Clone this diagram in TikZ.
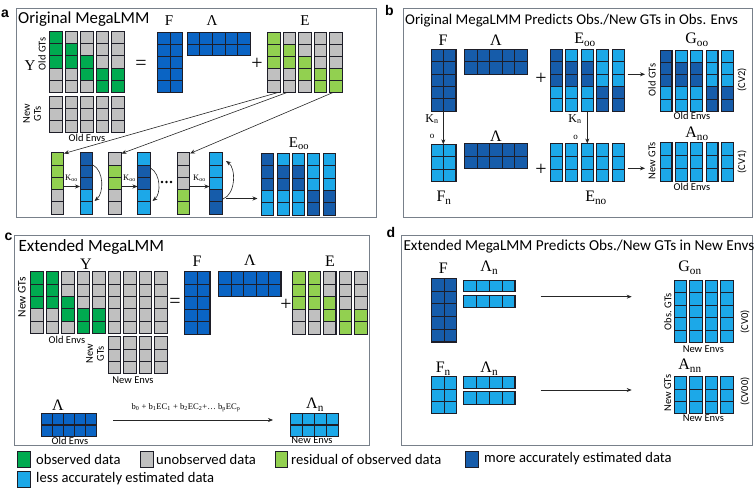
\documentclass[tikz,border=0pt]{standalone}
\usepackage{fontspec}
\setmainfont{Carlito}
\newfontfamily\lbl{Liberation Serif}
\newfontfamily\pan{Liberation Sans}
\usetikzlibrary{arrows.meta}
\definecolor{G}{RGB}{0,170,80}
\definecolor{U}{RGB}{192,192,192}
\definecolor{R}{RGB}{146,208,80}
\definecolor{A}{RGB}{10,100,196}
\definecolor{D}{RGB}{22,92,170}
\definecolor{L}{RGB}{28,168,232}
\definecolor{boxc}{RGB}{120,128,138}
\definecolor{edge}{RGB}{30,30,40}
\newcommand{\colv}[6]{%
  \def\tmplist{#6}%
  \foreach \cc [count=\ii from 0] in \tmplist {%
    \filldraw[fill=\cc, draw=edge, line width=0.5pt] (#1,{#2+\ii*#4}) rectangle ++(#3,#4);
  }%
  \draw[edge, line width=0.9pt] (#1,#2) rectangle ++(#3,{#5*#4});
}
\newcommand{\blk}[7]{%
  \foreach \ii in {1,...,#5} {\foreach \jj in {1,...,#6} {%
    \filldraw[fill=#7, draw=edge, line width=0.5pt] ({#1+(\ii-1)*#3},{#2+(\jj-1)*#4}) rectangle ++(#3,#4);
  }}%
  \draw[edge, line width=0.9pt] (#1,#2) rectangle ++({#5*#3},{#6*#4});
}
\begin{document}
\begin{tikzpicture}[x=1pt,y=-1pt,
  ttla/.style={font=\fontsize{16.8}{18}\selectfont, anchor=west, inner sep=0},
  ttlc/.style={font=\fontsize{17.2}{18}\selectfont, anchor=west, inner sep=0},
  ttlb/.style={font=\fontsize{14.85}{16}\selectfont, anchor=west, inner sep=0},
  ttld/.style={font=\fontsize{15.25}{16}\selectfont, anchor=west, inner sep=0},
  sm/.style={font=\fontsize{10.5}{11}\selectfont, inner sep=0},
  smc/.style={font=\fontsize{11.5}{12}\selectfont, inner sep=0},
  mlab/.style={font=\lbl\fontsize{15}{15}\selectfont, inner sep=0},
  mlabb/.style={font=\lbl\fontsize{16}{16}\selectfont, inner sep=0},
  klab/.style={font=\lbl\fontsize{12}{12}\selectfont, inner sep=0},
  kk/.style={font=\lbl\fontsize{8.5}{9}\selectfont, inner sep=0},
  osm/.style={font=\lbl\fontsize{9}{9}\selectfont, inner sep=0},
  sym/.style={font=\lbl\fontsize{20}{20}\selectfont, inner sep=0},
  pl/.style={font=\pan\bfseries\fontsize{14}{14}\selectfont, inner sep=0},
  leg/.style={font=\fontsize{14.6}{15}\selectfont, anchor=west, inner sep=0},
  arr/.style={-{Stealth[length=5pt,width=4pt]}, line width=0.6pt, black!85},
  panel/.style={draw=boxc, line width=1pt},
]
\useasboundingbox (0,0) rectangle (755,489);

% ================= panel a =================
\node[pl] (la) at (5,14) {a};
\draw[panel] (16,9) rectangle (376,218);
\node[ttla] (ta) at (18,19) {Original MegaLMM};
\colv{49.5}{31.5}{12.5}{12.1}{5}{G,G,G,U,U}
\colv{65}{31.5}{12.5}{12.1}{5}{U,G,G,U,U}
\colv{80.5}{31.5}{12.5}{12.1}{5}{U,U,G,G,U}
\colv{96}{31.5}{12.5}{12.1}{5}{U,U,U,G,G}
\colv{111.5}{31.5}{12.5}{12.1}{5}{U,U,U,G,G}
\foreach \x in {49.5,65,80.5,96,111.5} {\colv{\x}{96}{12.5}{12}{3}{U,U,U}}
\node[mlab] (Ya) at (30,66) {Y};
\node[sm, rotate=90] (oga) at (42,54) {Old GTs};
\node[sm, rotate=90, align=center] (nga) at (32,114) {New\\GTs};
\node[sm] (oea) at (87,138) {Old Envs};
\node[sym] (eqa) at (141,65) {=};
\node[mlab] (Fa) at (169,21) {F};
\blk{157.5}{32}{12.6}{12}{2}{5}{A}
\node[mlab] (La) at (212,21) {Λ};
\blk{187}{32}{12.6}{11.8}{5}{2}{A}
\node[sym] (pa) at (257,64) {+};
\node[mlab] (Ea) at (305,21) {E};
\colv{267.5}{32}{12.5}{12}{5}{R,R,R,U,U}
\colv{283}{32}{12.5}{12}{5}{U,R,R,U,U}
\colv{298.5}{32}{12.5}{12}{5}{U,U,R,R,U}
\colv{314}{32}{12.5}{12}{5}{U,U,U,R,R}
\colv{329.5}{32}{12.5}{12}{5}{U,U,U,R,R}
% bottom row
\colv{51}{152.5}{12.5}{12.3}{5}{R,R,R,U,U}
\colv{80}{152.5}{12.5}{12.3}{5}{D,D,D,L,L}
\colv{108.5}{152.5}{12.5}{12.3}{5}{U,R,R,U,U}
\colv{137.5}{152.5}{12.5}{12.3}{5}{L,D,D,L,L}
\colv{177}{152.5}{12.5}{12.3}{5}{U,U,U,R,R}
\colv{209.5}{152.5}{12.5}{12.3}{5}{L,L,L,D,D}
\coordinate (Ec1) at (278,92.5);
\coordinate (Ec2) at (287,92.5);
\coordinate (Ec5) at (333,92.5);
\coordinate (A1t) at (64,153.5);
\coordinate (B1t) at (121.5,153.5);
\coordinate (C1t) at (190,153.5);
\draw[arr] (Ec1) -- (A1t);
\draw[arr] (Ec2) -- (B1t);
\draw[arr] (Ec5) -- (C1t);
\coordinate (A1r) at (63.5,186.5); \coordinate (A2l) at (80,186.5);
\coordinate (B1r) at (121,186.5); \coordinate (B2l) at (137.5,186.5);
\coordinate (C1r) at (189.5,186.5); \coordinate (C2l) at (209.5,186.5);
\draw[arr] (A1r) -- (A2l);
\draw[arr] (B1r) -- (B2l);
\draw[arr] (C1r) -- (C2l);
\node[kk] (k1) at (71.5,178) {K\textsubscript{oo}};
\node[kk] (k2) at (129.5,178) {K\textsubscript{oo}};
\node[kk] (k3) at (199.5,178) {K\textsubscript{oo}};
\coordinate (A2a) at (93,165); \coordinate (A2b) at (94.5,201);
\draw[arr] (A2a) .. controls (104,171) and (104,193) .. (A2b);
\coordinate (B2a) at (150.5,168); \coordinate (B2b) at (152.5,201);
\draw[arr] (B2a) .. controls (161,174) and (161,194) .. (B2b);
\coordinate (C2a) at (223,199); \coordinate (C2b) at (226,161);
\draw[arr] (C2a) .. controls (236,194) and (236,168) .. (C2b);
\foreach \x in {162,166.5,171} {\fill[black] (\x,182) circle (1.4);}
\coordinate (C2o) at (226,198.5); \coordinate (Eoot) at (257.5,198.5);
\draw[arr] (C2o) -- (Eoot);
\node[mlab] (Eooa) at (299,144) {E\textsubscript{oo}};
\colv{261.5}{153}{12}{12.4}{5}{D,D,D,L,L}
\colv{277}{153}{12}{12.4}{5}{L,D,D,L,L}
\colv{292.2}{153}{12}{12.4}{5}{L,D,D,L,L}
\colv{307.5}{153}{12}{12.4}{5}{L,L,L,D,D}
\colv{323}{153}{12}{12.4}{5}{L,L,L,D,D}

% ================= panel b =================
\node[pl] (lb) at (389.5,10) {b};
\draw[panel] (403,9) rectangle (752,218);
\node[ttlb] (tb) at (405,21) {Original MegaLMM Predicts Obs./New GTs in Obs. Envs};
\node[mlabb] (Fb) at (443,40) {F};
\blk{431}{49}{12.4}{12.4}{2}{5}{D}
\node[mlabb] (Lb) at (496,40) {Λ};
\blk{464.5}{49}{12.5}{12.6}{5}{2}{D}
\node[sym] (pb1) at (541,79) {+};
\node[mlabb] (Eoob) at (585,40) {E\textsubscript{oo}};
\colv{550}{49}{12}{12.4}{5}{D,D,D,L,L}
\colv{565.5}{49}{12}{12.4}{5}{L,D,D,L,L}
\colv{581}{49}{12}{12.4}{5}{L,D,D,L,L}
\colv{596.5}{49}{12}{12.4}{5}{L,L,L,D,D}
\colv{612}{49}{12}{12.4}{5}{L,L,L,D,D}
\coordinate (b1s) at (627.5,74.3); \coordinate (b1e) at (645,74.3);
\draw[arr] (b1s) -- (b1e);
\node[mlabb] (Goob) at (697,40) {G\textsubscript{oo}};
\colv{660}{50}{11.8}{12.2}{5}{D,D,D,L,L}
\colv{675.3}{50}{11.8}{12.2}{5}{L,D,D,L,L}
\colv{690.6}{50}{11.8}{12.2}{5}{L,D,D,L,L}
\colv{706}{50}{11.8}{12.2}{5}{L,L,L,D,D}
\colv{721.3}{50}{11.8}{12.2}{5}{L,L,L,D,D}
\node[sm, rotate=90] (ogb) at (652,80) {Old GTs};
\node[sm, rotate=90] (cv2) at (742,80) {(CV2)};
\node[sm] (oeb1) at (692,115.5) {Old Envs};
% lower b
\node[klab] (kn1) at (432,119) {K\textsubscript{n}};
\node[osm] (o1) at (432,136.5) {o};
\coordinate (Fbb) at (443.3,111); \coordinate (Fnt) at (443.3,144.3);
\draw[arr] (Fbb) -- (Fnt);
\blk{431}{144.3}{12.4}{12.4}{2}{3}{L}
\node[mlabb] (Fnb) at (444,198) {F\textsubscript{n}};
\node[mlabb] (Lb2) at (496,136) {Λ};
\blk{464.5}{143.7}{12.5}{12.3}{5}{2}{D}
\node[sym] (pb2) at (541,170) {+};
\foreach \x in {550,565.5,581,596.5,612} {\colv{\x}{143.5}{12}{12.7}{3}{L,L,L}}
\node[mlabb] (Enob) at (596,198) {E\textsubscript{no}};
\node[klab] (kn2) at (575,119) {K\textsubscript{n}};
\node[osm] (o2) at (575.5,137.5) {o};
\coordinate (Eb) at (587.3,111); \coordinate (Ent) at (587.3,143.5);
\draw[arr] (Eb) -- (Ent);
\coordinate (b2s) at (627.5,168.3); \coordinate (b2e) at (645,168.3);
\draw[arr] (b2s) -- (b2e);
\node[mlabb] (Anob) at (697,134) {A\textsubscript{no}};
\foreach \x in {660,675.3,690.6,706,721.3} {\colv{\x}{142.5}{11.8}{13}{3}{L,L,L}}
\node[sm, rotate=90] (ngb) at (652,161) {New GTs};
\node[sm, rotate=90] (cv1) at (742,162) {(CV1)};
\node[sm] (oeb2) at (692,187) {Old Envs};

% ================= panel c =================
\node[pl] (lc) at (8.5,237) {c};
\draw[panel] (14.5,236) rectangle (369,445);
\node[ttlc] (tc) at (18.3,247.5) {Extended MegaLMM};
\node[mlabb] (Yc) at (86,264.5) {Y};
\colv{30.7}{271.7}{12.5}{12.3}{5}{G,G,G,U,U}
\colv{46.2}{271.7}{12.5}{12.3}{5}{G,G,G,U,U}
\colv{61.7}{271.7}{12.5}{12.3}{5}{U,U,G,G,U}
\colv{77.2}{271.7}{12.5}{12.3}{5}{U,U,U,G,G}
\colv{92.7}{271.7}{12.5}{12.3}{5}{U,U,U,G,G}
\foreach \x in {108.2,123.7,139.2,154.7} {\colv{\x}{271.7}{12.5}{12.3}{5}{U,U,U,U,U}}
\foreach \x in {108.2,123.7,139.2,154.7} {\colv{\x}{336.7}{12.5}{12.2}{3}{U,U,U}}
\node[smc, rotate=90] (ngc1) at (22,297) {New GTs};
\node[sm] (oec1) at (67,340) {Old Envs};
\node[sm, rotate=90, align=center] (ngc2) at (95,354) {New\\GTs};
\node[sm] (nec1) at (133,380) {New Envs};
\node[sym] (eqc) at (175,303) {=};
\node[mlabb] (Fc) at (197,261) {F};
\blk{184.3}{271.7}{12.8}{12.5}{2}{5}{A}
\node[mlabb] (Lc) at (250,260) {Λ};
\blk{218.3}{271.7}{12.5}{12.5}{5}{2}{A}
\node[sym] (pc) at (286,305) {+};
\node[mlabb] (Ec) at (330,261) {E};
\colv{292.7}{271.7}{12.3}{12.5}{5}{R,R,R,U,U}
\colv{308.3}{271.7}{12.3}{12.5}{5}{R,R,R,U,U}
\colv{323.6}{271.7}{12.3}{12.5}{5}{U,U,R,R,U}
\colv{339.2}{271.7}{12.3}{12.5}{5}{U,U,U,R,R}
\colv{354.7}{271.7}{12.3}{12.5}{5}{U,U,U,R,R}
% bottom of c
\node[mlabb] (Lc2) at (58,405) {Λ};
\blk{41.7}{413}{11}{11}{5}{1}{A}
\blk{41.7}{425.5}{11}{10.5}{5}{1}{A}
\node[sm] (oec2) at (70,440.5) {Old Envs};
\node[font=\lbl\fontsize{8.6}{10}\selectfont, inner sep=0] (form) at (186,408) {b\textsubscript{0} + b\textsubscript{1}EC\textsubscript{1} + b\textsubscript{2}EC\textsubscript{2}+… b\textsubscript{p}EC\textsubscript{p}};
\coordinate (cs) at (113,420); \coordinate (ce) at (273,420);
\draw[arr] (cs) -- (ce);
\node[mlabb] (Lnc) at (315,405) {Λ\textsubscript{n}};
\blk{290}{413}{12.1}{11}{4}{1}{L}
\blk{290}{425.5}{12.1}{10.5}{4}{1}{L}
\node[sm] (nec2) at (312,440.5) {New Envs};

% ================= panel d =================
\node[pl] (ld) at (391,232.5) {d};
\draw[panel] (401,236) rectangle (752,445);
\node[ttld] (td) at (403.3,247) {Extended MegaLMM Predicts Obs./New GTs in New Envs};
\node[mlabb] (Fd) at (443.3,268) {F};
\blk{431.7}{278.3}{12.5}{12.7}{2}{5}{D}
\node[mlabb] (Lnd1) at (489.3,268) {Λ\textsubscript{n}};
\blk{463.3}{280}{12.9}{11.7}{4}{1}{L}
\blk{463.3}{295}{12.9}{12.7}{4}{1}{L}
\coordinate (d1s) at (540.7,296.7); \coordinate (d1e) at (631.7,296.7);
\draw[arr] (d1s) -- (d1e);
\node[mlabb] (God) at (690,268) {G\textsubscript{on}};
\foreach \x in {674,689.5,705,720.7} {\colv{\x}{280}{12.6}{12.46}{5}{L,L,L,L,L}}
\node[sm, rotate=90] (ogd) at (667.7,311.7) {Obs. GTs};
\node[sm, rotate=90] (cv0) at (745,321.7) {(CV0)};
\node[sm] (ned1) at (703.3,349) {New Envs};
\node[mlabb] (Fnd) at (443.3,368.5) {F\textsubscript{n}};
\blk{431.7}{376.7}{12.5}{12.2}{2}{3}{L}
\node[mlabb] (Lnd2) at (489.3,368.5) {Λ\textsubscript{n}};
\blk{463.3}{376.7}{12.9}{11.6}{4}{1}{L}
\blk{463.3}{391.7}{12.9}{12.6}{4}{1}{L}
\coordinate (d2s) at (540.7,390); \coordinate (d2e) at (631.7,390);
\draw[arr] (d2s) -- (d2e);
\node[mlabb] (And) at (690,366) {A\textsubscript{nn}};
\foreach \x in {674,689.5,705,720.7} {\colv{\x}{376.7}{12.6}{12.2}{3}{L,L,L}}
\node[sm, rotate=90] (ngd) at (667.7,393.3) {New GTs};
\node[sm, rotate=90] (cv00) at (745,391.7) {(CV00)};
\node[sm] (ned2) at (703.3,417.7) {New Envs};

% ================= legend =================
\filldraw[fill=G, draw=edge, line width=0.6pt] (17,451) rectangle (30,467);
\node[leg] (lg1) at (36,459) {observed data};
\filldraw[fill=U, draw=edge, line width=0.6pt] (140,451) rectangle (153,467);
\node[leg] (lg2) at (156,459) {unobserved data};
\filldraw[fill=R, draw=edge, line width=0.6pt] (275,451) rectangle (287,467);
\node[leg] (lg3) at (291,459) {residual of observed data};
\filldraw[fill=D, draw=edge, line width=0.6pt] (465,451) rectangle (478,467);
\node[leg] (lg4) at (484,459) {more accurately estimated data};
\filldraw[fill=L, draw=edge, line width=0.6pt] (17,471) rectangle (30,487);
\node[leg] (lg5) at (36,479) {less accurately estimated data};
\end{tikzpicture}
\end{document}
